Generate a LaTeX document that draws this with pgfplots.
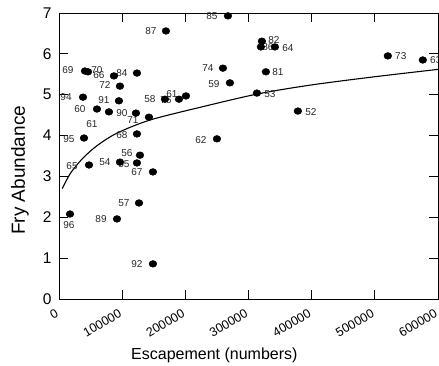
\documentclass[border=0pt]{standalone}
\usepackage{fontspec}
\setmainfont{Liberation Sans}
\usepackage{pgfplots}
\pgfplotsset{compat=1.18}
\begin{document}
\begin{tikzpicture}
\begin{axis}[
 scale only axis, width=379pt, height=286pt,
 xmin=0, xmax=600000, ymin=0, ymax=7,
 xtick={0,100000,200000,300000,400000,500000,600000},
 xticklabels={0,100000,200000,300000,400000,500000,600000},
 ytick={0,1,2,3,4,5,6,7},
 yticklabels={0,1,2,3,4,5,6,7},
 scaled x ticks=false,
 tick align=inside, major tick length=9pt,
 tick style={black, line width=0.8pt},
 axis line style={line width=0.8pt},
 xticklabel style={font=\fontsize{12.5}{14}\selectfont, rotate=30, anchor=north east, yshift=-3pt, xshift=-5pt},
 yticklabel style={font=\fontsize{15.5}{17}\selectfont, xshift=-4pt},
 xlabel={Escapement (numbers)}, ylabel={Fry Abundance},
 xlabel style={font=\fontsize{16}{18}\selectfont, at={(axis description cs:0.41,-0.196)}, anchor=center},
 ylabel style={font=\fontsize{19}{21}\selectfont, at={(axis description cs:-0.103,0.45)}, anchor=center},
 clip=false,
]
\addplot[only marks, mark=*, mark size=3.4pt, mark options={black, fill=black, xscale=1.15}] coordinates {
(169300,6.56) (41100,5.58) (45900,5.56) (87000,5.46) (123400,5.53) (96500,5.21)
(38000,4.94) (94900,4.85) (167700,4.89) (189900,4.89) (201000,4.97) (60100,4.65)
(79100,4.58) (121800,4.55) (142400,4.45) (39600,3.94) (123400,4.04) (47500,3.28)
(96500,3.35) (128200,3.52) (123400,3.33) (148700,3.11) (126600,2.35) (91800,1.96)
(17400,2.08) (148700,0.86) (267400,6.93) (321200,6.31) (319600,6.17) (341800,6.17)
(520600,5.95) (576000,5.85) (259500,5.65) (327500,5.56) (270600,5.29) (313300,5.04)
(378200,4.60) (250000,3.92)
};
\addplot[black, line width=1.1pt, smooth] coordinates {
(5000,2.70) (12700,2.93) (20000,3.12) (38000,3.45) (60000,3.75) (91800,4.06)
(144000,4.38) (223000,4.69) (315000,5.02) (400000,5.24) (500000,5.44) (600000,5.62)
};
\begin{scope}[every node/.style={font=\fontsize{10}{11}\selectfont, inner sep=0pt, text=black!85}]
\node at (axis cs:145600,6.56) {87};
\node at (axis cs:14200,5.61) {69};
\node at (axis cs:60100,5.61) {70};
\node at (axis cs:63300,5.48) {66};
\node at (axis cs:99700,5.53) {84};
\node at (axis cs:72800,5.24) {72};
\node at (axis cs:11100,4.94) {94};
\node at (axis cs:71200,4.87) {91};
\node at (axis cs:144000,4.89) {58};
\node at (axis cs:169300,4.87) {76};
\node at (axis cs:178800,5.02) {61};
\node at (axis cs:33200,4.65) {60};
\node at (axis cs:99700,4.55) {90};
\node at (axis cs:117100,4.38) {71};
\node at (axis cs:52200,4.28) {61};
\node at (axis cs:15800,3.92) {95};
\node at (axis cs:99700,4.01) {68};
\node at (axis cs:20600,3.26) {65};
\node at (axis cs:72800,3.35) {54};
\node at (axis cs:107600,3.57) {56};
\node at (axis cs:102800,3.30) {55};
\node at (axis cs:123400,3.11) {67};
\node at (axis cs:102800,2.35) {57};
\node at (axis cs:66500,1.96) {89};
\node at (axis cs:15800,1.81) {96};
\node at (axis cs:123400,0.86) {92};
\node at (axis cs:242100,6.93) {85};
\node at (axis cs:340200,6.34) {82};
\node at (axis cs:330700,6.17) {86};
\node at (axis cs:362300,6.14) {64};
\node at (axis cs:541100,5.95) {73};
\node at (axis cs:596500,5.85) {63};
\node at (axis cs:235800,5.65) {74};
\node at (axis cs:346500,5.56) {81};
\node at (axis cs:245300,5.26) {59};
\node at (axis cs:333900,5.02) {53};
\node at (axis cs:398700,4.58) {52};
\node at (axis cs:224700,3.89) {62};
\end{scope}
\end{axis}
\pgfresetboundingbox
\path[use as bounding box] (-59pt,-67pt) rectangle (380pt,299pt);
\end{tikzpicture}
\end{document}
